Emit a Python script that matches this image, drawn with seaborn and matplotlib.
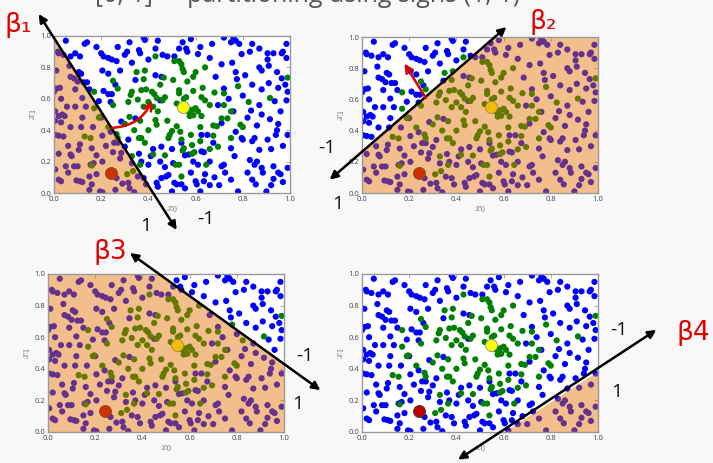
import numpy as np
import pandas as pd
import matplotlib
matplotlib.use('Agg')
import matplotlib.pyplot as plt
import seaborn as sns

# points (same sample in all four panels)
blue_x = [0.016, 0.02, 0.04, 0.07, 0.09, 0.065, 0.07, 0.085, 0.0, 0.01, 0.025, 0.09, 0.03, 0.005, 0.02, 0.035,
          0.045, 0.055, 0.09, 0.07, 0.005, 0.02, 0.04, 0.07, 0.075, 0.05, 0.085, 0.005, 0.02, 0.03, 0.095, 0.06,
          0.11, 0.13, 0.14, 0.105, 0.115, 0.10, 0.125, 0.14, 0.12, 0.135, 0.115, 0.165, 0.19, 0.11, 0.105, 0.16,
          0.15, 0.16, 0.155, 0.168, 0.11, 0.12, 0.195, 0.18,
          0.20, 0.21, 0.23, 0.245, 0.265, 0.205, 0.23, 0.21, 0.23, 0.245, 0.24, 0.20, 0.285, 0.205, 0.24, 0.255,
          0.27, 0.28, 0.285, 0.205, 0.265, 0.205, 0.22, 0.26,
          0.30, 0.31, 0.32, 0.36, 0.365, 0.345, 0.30, 0.315, 0.315, 0.32, 0.355, 0.34, 0.38, 0.39, 0.345, 0.38,
          0.385, 0.37, 0.33,
          0.40, 0.43, 0.46, 0.48, 0.455, 0.45, 0.40, 0.41, 0.435, 0.44, 0.455, 0.475, 0.485, 0.455, 0.47, 0.43,
          0.51, 0.53, 0.545, 0.56, 0.565, 0.505, 0.51, 0.52, 0.54, 0.555, 0.54, 0.57, 0.555, 0.59,
          0.61, 0.67, 0.685, 0.695, 0.61, 0.60, 0.605, 0.635, 0.625, 0.635, 0.625, 0.65, 0.675, 0.64, 0.66,
          0.72, 0.75, 0.76, 0.77, 0.785, 0.795, 0.71, 0.755, 0.77, 0.72, 0.775, 0.71, 0.71, 0.72, 0.725, 0.765,
          0.75, 0.795, 0.80, 0.77, 0.75, 0.78, 0.76,
          0.84, 0.87, 0.83, 0.87, 0.88, 0.81, 0.84, 0.835, 0.87, 0.88, 0.85, 0.84, 0.87, 0.85, 0.88, 0.885,
          0.84, 0.855, 0.82, 0.83, 0.86,
          0.905, 0.93, 0.965, 0.97, 0.985, 0.905, 0.985, 0.91, 0.945, 0.965, 0.91, 0.95, 0.98, 0.99, 0.985,
          0.935, 0.96, 0.915, 0.905, 0.94, 0.945, 0.95, 0.93, 0.95, 0.96, 0.99, 0.90, 0.93, 0.97, 0.92,
          0.005, 0.03, 0.15, 0.06, 0.12, 0.18, 0.25, 0.29, 0.36, 0.42, 0.45, 0.50, 0.58, 0.66, 0.68, 0.74,
          0.80, 0.82, 0.86, 0.92, 0.97, 0.99, 0.88, 0.66, 0.62, 0.58, 0.44, 0.27, 0.18, 0.05, 0.01, 0.33,
          0.28, 0.50, 0.62, 0.70, 0.26, 0.15, 0.02, 0.10]
blue_y = [0.90, 0.89, 0.88, 0.87, 0.89, 0.81, 0.74, 0.73, 0.645, 0.665, 0.67, 0.66, 0.60, 0.52, 0.49, 0.50,
          0.49, 0.55, 0.55, 0.42, 0.37, 0.365, 0.36, 0.245, 0.235, 0.17, 0.17, 0.15, 0.085, 0.075, 0.08, 0.13,
          0.87, 0.95, 0.96, 0.77, 0.76, 0.71, 0.705, 0.705, 0.605, 0.55, 0.42, 0.42, 0.585, 0.31, 0.275, 0.285,
          0.105, 0.055, 0.18, 0.19, 0.075, 0.07, 0.01, 0.24,
          0.89, 0.87, 0.86, 0.85, 0.84, 0.78, 0.76, 0.65, 0.63, 0.63, 0.58, 0.48, 0.455, 0.365, 0.39, 0.32,
          0.32, 0.22, 0.255, 0.20, 0.095, 0.005, 0.30, 0.69,
          0.88, 0.90, 0.96, 0.91, 0.89, 0.72, 0.295, 0.34, 0.065, 0.03, 0.105, 0.005, 0.095, 0.055, 0.475, 0.99,
          0.975, 0.20, 0.19,
          0.85, 0.92, 0.88, 0.87, 0.74, 0.59, 0.18, 0.235, 0.065, 0.04, 0.095, 0.105, 0.115, 0.295, 0.165, 0.75,
          0.87, 0.92, 0.96, 0.92, 0.90, 0.19, 0.065, 0.055, 0.055, 0.03, 0.32, 0.245, 0.24, 0.20,
          0.885, 0.95, 0.74, 0.56, 0.18, 0.075, 0.055, 0.075, 0.265, 0.26, 0.37, 0.37, 0.32, 0.12, 0.05,
          0.99, 0.96, 0.99, 0.97, 0.95, 0.885, 0.82, 0.83, 0.77, 0.665, 0.725, 0.445, 0.17, 0.18, 0.13, 0.235,
          0.285, 0.35, 0.34, 0.39, 0.085, 0.01, 0.52,
          0.95, 0.92, 0.90, 0.80, 0.78, 0.75, 0.69, 0.525, 0.56, 0.50, 0.35, 0.33, 0.275, 0.18, 0.16, 0.13,
          0.085, 0.055, 0.13, 0.21, 0.20,
          0.89, 0.89, 0.89, 0.90, 0.95, 0.85, 0.86, 0.81, 0.77, 0.73, 0.70, 0.67, 0.69, 0.645, 0.59,
          0.585, 0.52, 0.47, 0.34, 0.37, 0.40, 0.44, 0.17, 0.13, 0.12, 0.16, 0.01, 0.09, 0.07, 0.05,
          0.46, 0.45, 0.66, 0.30, 0.48, 0.12, 0.26, 0.06, 0.25, 0.28, 0.20, 0.28, 0.13, 0.20, 0.10, 0.60,
          0.62, 0.48, 0.43, 0.28, 0.30, 0.37, 0.66, 0.86, 0.93, 0.98, 0.97, 0.93, 0.93, 0.97, 0.78, 0.83,
          0.78, 0.01, 0.01, 0.05, 0.02, 0.02, 0.25, 0.17]

green_x = [0.43, 0.51, 0.53, 0.54, 0.545, 0.55, 0.64, 0.60, 0.99, 0.17, 0.17, 0.25, 0.27, 0.25, 0.195, 0.19,
           0.13, 0.155, 0.265, 0.27, 0.16, 0.33, 0.31, 0.335, 0.365, 0.42, 0.54, 0.53, 0.515, 0.47, 0.585, 0.595,
           0.645, 0.675, 0.75, 0.79, 0.80, 0.915, 0.825,
           0.37, 0.385, 0.38, 0.415, 0.33, 0.325, 0.315, 0.355, 0.38, 0.365, 0.36, 0.37, 0.32, 0.43, 0.435,
           0.425, 0.435, 0.46, 0.47, 0.465, 0.505, 0.53, 0.53, 0.57, 0.585, 0.60, 0.61, 0.625, 0.59, 0.575,
           0.64, 0.625, 0.63, 0.59, 0.565, 0.59, 0.72, 0.78, 0.75, 0.735, 0.69, 0.675, 0.52, 0.49, 0.485,
           0.50, 0.535, 0.54, 0.55, 0.545, 0.585, 0.62, 0.71, 0.695, 0.385, 0.40, 0.56, 0.55, 0.42, 0.39,
           0.34, 0.44, 0.48, 0.66, 0.68, 0.62, 0.45, 0.35, 0.66, 0.58, 0.30, 0.23, 0.52, 0.40, 0.72]
green_y = [0.87, 0.84, 0.84, 0.82, 0.79, 0.77, 0.80, 0.77, 0.735, 0.645, 0.54, 0.715, 0.665, 0.56, 0.485, 0.48,
           0.36, 0.35, 0.375, 0.35, 0.175, 0.235, 0.12, 0.14, 0.18, 0.245, 0.105, 0.18, 0.18, 0.24, 0.25, 0.26,
           0.18, 0.365, 0.35, 0.435, 0.42, 0.605, 0.58,
           0.655, 0.78, 0.725, 0.645, 0.645, 0.625, 0.58, 0.595, 0.55, 0.46, 0.35, 0.35, 0.485, 0.465, 0.435,
           0.63, 0.605, 0.59, 0.61, 0.735, 0.72, 0.655, 0.635, 0.52, 0.53, 0.54, 0.52, 0.49, 0.495, 0.49,
           0.59, 0.61, 0.67, 0.65, 0.71, 0.74, 0.635, 0.68, 0.52, 0.475, 0.425, 0.43, 0.425, 0.37, 0.35,
           0.395, 0.39, 0.34, 0.285, 0.27, 0.305, 0.33, 0.475, 0.295, 0.32, 0.58, 0.61, 0.60, 0.55, 0.66,
           0.40, 0.52, 0.46, 0.56, 0.64, 0.42, 0.69, 0.77, 0.28, 0.37, 0.44, 0.42, 0.57, 0.40, 0.56]

red_pt = (0.24, 0.13)
yellow_pt = (0.545, 0.55)
ticks = [0.0, 0.2, 0.4, 0.6, 0.8, 1.0]

W, H = 713, 463
ORANGE = (227 / 255, 111 / 255, 0.0)


def fx(x):
    return x / W


def fy(y):
    return 1 - y / H


# each panel: axes box in pixels, the half-plane edge (two points, shaded below),
# the black double arrow, the red beta label and the +/-1 labels
panels = [
    dict(box=(54, 36, 290, 193), edge=((0.0, 1.0), (0.42, 0.0)), arrow=((-0.065, 1.14), (0.52, -0.235)),
         beta=('β₁', 18, 25), minus=(206, 219), plus=(146, 226), red=((0.245, 0.415), (0.415, 0.587), 0.3)),
    dict(box=(362, 37, 598, 193), edge=((0.0, 0.264), (0.563, 1.0)), arrow=((-0.137, 0.085), (0.612, 1.064)),
         beta=('β₂', 543, 22), minus=(327, 148), plus=(338, 204), red=((0.27, 0.61), (0.18, 0.83), 0.0)),
    dict(box=(48, 274, 284, 432), edge=((0.471, 1.0), (1.0, 0.43)), arrow=((0.347, 1.133), (1.154, 0.265)),
         beta=('β3', 110, 252), minus=(305, 356), plus=(298, 404), red=None),
    dict(box=(362, 274, 598, 432), edge=((0.60, 0.0), (1.0, 0.385)), arrow=((0.407, -0.175), (1.247, 0.646)),
         beta=('β4', 693, 333), minus=(619, 330), plus=(617, 392), red=None),
]

df = pd.DataFrame({
    'x0': blue_x + green_x,
    'x1': blue_y + green_y,
    'cls': ['blue'] * len(blue_x) + ['green'] * len(green_x),
})

sns.set_style('white')
plt.rcParams['font.family'] = ['Open Sans', 'DejaVu Sans']
plt.rcParams['mathtext.fontset'] = 'cm'

fig = plt.figure(figsize=(W / 100, H / 100), dpi=100, facecolor='#f8f8f8')

for p in panels:
    l, t, r, b = p['box']
    ax = fig.add_axes([fx(l), fy(b), (r - l) / W, (b - t) / H])
    ax.set_facecolor('white')
    sns.scatterplot(data=df, x='x0', y='x1', hue='cls', palette={'blue': '#0000ff', 'green': '#008000'},
                    s=20, linewidth=0, legend=False, ax=ax, zorder=2)
    ax.scatter([red_pt[0]], [red_pt[1]], s=75, color='#c00000', edgecolor='#333333', linewidth=0.6, zorder=2)
    ax.scatter([yellow_pt[0]], [yellow_pt[1]], s=75, color='#ffff00', edgecolor='#888888', linewidth=0.6,
               zorder=2)

    # shaded half-plane, drawn over the points like the original
    (xa, ya), (xb, yb) = p['edge']
    xs = np.linspace(0, 1, 400)
    line = np.clip(ya + (yb - ya) / (xb - xa) * (xs - xa), 0, 1)
    ax.fill_between(xs, 0, line, color=ORANGE, alpha=0.45, linewidth=0, zorder=3)

    ax.set_xlim(0, 1)
    ax.set_ylim(0, 1)
    ax.set_xticks(ticks)
    ax.set_yticks(ticks)
    ax.set_xticklabels([f'{v:.1f}' for v in ticks])
    ax.set_yticklabels([f'{v:.1f}' for v in ticks])
    ax.tick_params(direction='in', top=True, right=True, length=3, width=0.5, labelsize=5.5,
                   colors='#888888', labelcolor='#444444', pad=2)
    ax.set_xlabel('$x_0$', fontsize=8, color='#666666', labelpad=1)
    ax.set_ylabel('$x_1$', fontsize=8, color='#666666', labelpad=1)
    for sp in ax.spines.values():
        sp.set_color('#999999')
        sp.set_linewidth(1.0)
        sp.set_zorder(4)

    s, e = p['arrow']
    ax.annotate('', xy=e, xytext=s, annotation_clip=False, zorder=6,
                arrowprops=dict(arrowstyle='<|-|>', color='black', lw=1.8, mutation_scale=12,
                                shrinkA=0, shrinkB=0))

    if p['red'] is not None:
        rs, re, rad = p['red']
        ax.annotate('', xy=re, xytext=rs, annotation_clip=False, zorder=6,
                    arrowprops=dict(arrowstyle='->', color='#dd0000', lw=1.8, mutation_scale=13,
                                    connectionstyle=f'arc3,rad={rad}', shrinkA=0, shrinkB=0))

    txt, bx, by = p['beta']
    fig.text(fx(bx), fy(by), txt, color='#e00000', fontsize=19, ha='center', va='center',
             family=['DejaVu Sans'])
    fig.text(fx(p['minus'][0]), fy(p['minus'][1]), '-1', fontsize=14, ha='center', va='center',
             color='#111111')
    fig.text(fx(p['plus'][0]), fy(p['plus'][1]), '1', fontsize=14, ha='center', va='center', color='#111111')

# slide title cut by the top edge
fig.text(fx(95), fy(2), '[0, 1]² – partitioning using signs (1, 1)', fontsize=18, color='#555555',
         ha='left', va='baseline')

fig.savefig('out.png', dpi=100, facecolor=fig.get_facecolor())
